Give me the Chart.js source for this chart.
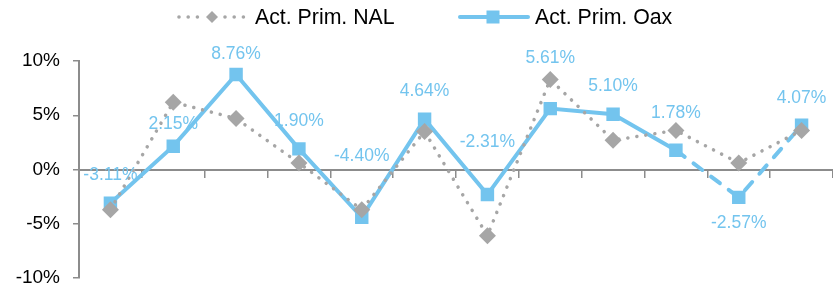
<!DOCTYPE html>
<html>
<head>
<meta charset="utf-8">
<script src="https://cdn.jsdelivr.net/npm/chart.js@4"></script>
<style>
  html, body { margin: 0; padding: 0; background: #fff; }
  #wrap { width: 833px; height: 288px; }
</style>
</head>
<body>
<div id="wrap"><canvas id="chart"></canvas></div>
<script>
// ─── DATA ────────────────────────────────────────────────────────
const categories = ['1', '2', '3', '4', '5', '6', '7', '8', '9', '10', '11', '12'];
const nalValues  = [-3.7, 6.2, 4.7, 0.6, -3.7, 3.5, -6.1, 8.3, 2.7, 3.6, 0.6, 3.6];
const oaxValues  = [-3.11, 2.15, 8.76, 1.90, -4.40, 4.64, -2.31, 5.61, 5.10, 1.78, -2.57, 4.07];
const yTicks     = [-10, -5, 0, 5, 10];
const dashFrom   = 9; // Oax segments after this index are dashed

const BLUE = '#73c4ee';
const GREY = '#a6a6a6';
const FONT = 'Liberation Sans, Arial, sans-serif';

// label offsets (px from point centre), picked to match the original placement
const labelOffsets = [-28, -22, -20, -28, -61, -28, -52, -50, -28, -37, 26, -27];

// ─── PLUGINS ─────────────────────────────────────────────────────
const oaxLabels = {
  id: 'oaxLabels',
  afterDatasetsDraw(chart) {
    const meta = chart.getDatasetMeta(1);
    const ctx = chart.ctx;
    ctx.save();
    ctx.font = '17.5px ' + FONT;
    ctx.fillStyle = BLUE;
    ctx.textAlign = 'center';
    ctx.textBaseline = 'middle';
    meta.data.forEach((pt, i) => {
      ctx.fillText(oaxValues[i].toFixed(2) + '%', pt.x, pt.y + labelOffsets[i]);
    });
    ctx.restore();
  }
};

const customLegend = {
  id: 'customLegend',
  afterDraw(chart) {
    const ctx = chart.ctx;
    const y = 17;
    ctx.save();
    ctx.font = '21.3px ' + FONT;
    ctx.textBaseline = 'middle';

    // NAL: dotted grey line with diamond
    let x = 178;
    ctx.fillStyle = GREY;
    for (let d = 0; d < 8; d++) {
      const dx = x + d * 9.2;
      if (Math.abs(dx + 1 - 212) < 6) continue;
      ctx.beginPath(); ctx.arc(dx + 1, y, 1.8, 0, Math.PI * 2); ctx.fill();
    }
    ctx.beginPath();
    ctx.moveTo(212 - 6, y); ctx.lineTo(212, y - 6); ctx.lineTo(212 + 6, y); ctx.lineTo(212, y + 6);
    ctx.closePath(); ctx.fill();
    ctx.fillStyle = '#000';
    ctx.fillText('Act. Prim. NAL', 255, y + 1);

    // Oax: solid blue line with square
    ctx.strokeStyle = BLUE;
    ctx.lineWidth = 4;
    ctx.lineCap = 'round';
    ctx.beginPath(); ctx.moveTo(460, y); ctx.lineTo(528, y); ctx.stroke();
    ctx.fillStyle = BLUE;
    ctx.fillRect(493 - 6.5, y - 6.5, 13, 13);
    ctx.fillStyle = '#000';
    ctx.fillText('Act. Prim. Oax', 535, y + 1);
    ctx.restore();
  }
};

// ─── CHART ───────────────────────────────────────────────────────
new Chart(document.getElementById('chart'), {
  type: 'line',
  data: {
    labels: categories,
    datasets: [
      {
        label: 'Act. Prim. NAL',
        data: nalValues,
        borderColor: GREY,
        backgroundColor: GREY,
        borderWidth: 3.5,
        borderDash: [0.1, 9],
        borderCapStyle: 'round',
        pointStyle: 'rectRot',
        pointRadius: 8.5,
        pointBorderWidth: 0,
        pointBackgroundColor: GREY,
        tension: 0
      },
      {
        label: 'Act. Prim. Oax',
        data: oaxValues,
        borderColor: BLUE,
        backgroundColor: BLUE,
        borderWidth: 4,
        borderCapStyle: 'round',
        pointStyle: 'rect',
        pointRadius: 9.5,
        pointBorderWidth: 0,
        pointBackgroundColor: BLUE,
        tension: 0,
        segment: {
          borderDash: ctx => ctx.p0DataIndex >= dashFrom ? [11, 11] : undefined
        }
      }
    ]
  },
  options: {
    responsive: true, maintainAspectRatio: false, animation: false,
    layout: { autoPadding: false, padding: { top: 61, bottom: 10, left: 0, right: 0 } },
    plugins: { legend: { display: false }, tooltip: { enabled: false } },
    scales: {
      x: {
        position: { y: 0 },
        offset: true,
        afterFit: s => { s.height = 0; s.paddingLeft = 0; s.paddingRight = 0; },
        grid: { offset: true, drawOnChartArea: false, drawTicks: true, tickLength: 7, color: '#8c8c8c', lineWidth: 1.5 },
        border: { color: '#8c8c8c', width: 2 },
        ticks: { display: false }
      },
      y: {
        min: -10, max: 10,
        afterFit: s => { s.width = 79; s.paddingTop = 0; s.paddingBottom = 0; },
        afterBuildTicks: s => { s.ticks = yTicks.map(v => ({ value: v })); },
        grid: { drawOnChartArea: false, drawTicks: true, tickLength: 6, color: '#8c8c8c', lineWidth: 1.5 },
        border: { color: '#8c8c8c', width: 2 },
        ticks: {
          padding: 13,
          color: '#000',
          font: { family: FONT, size: 19, lineHeight: 1 },
          callback: v => v + '%'
        }
      }
    }
  },
  plugins: [oaxLabels, customLegend]
});
</script>
</body>
</html>
